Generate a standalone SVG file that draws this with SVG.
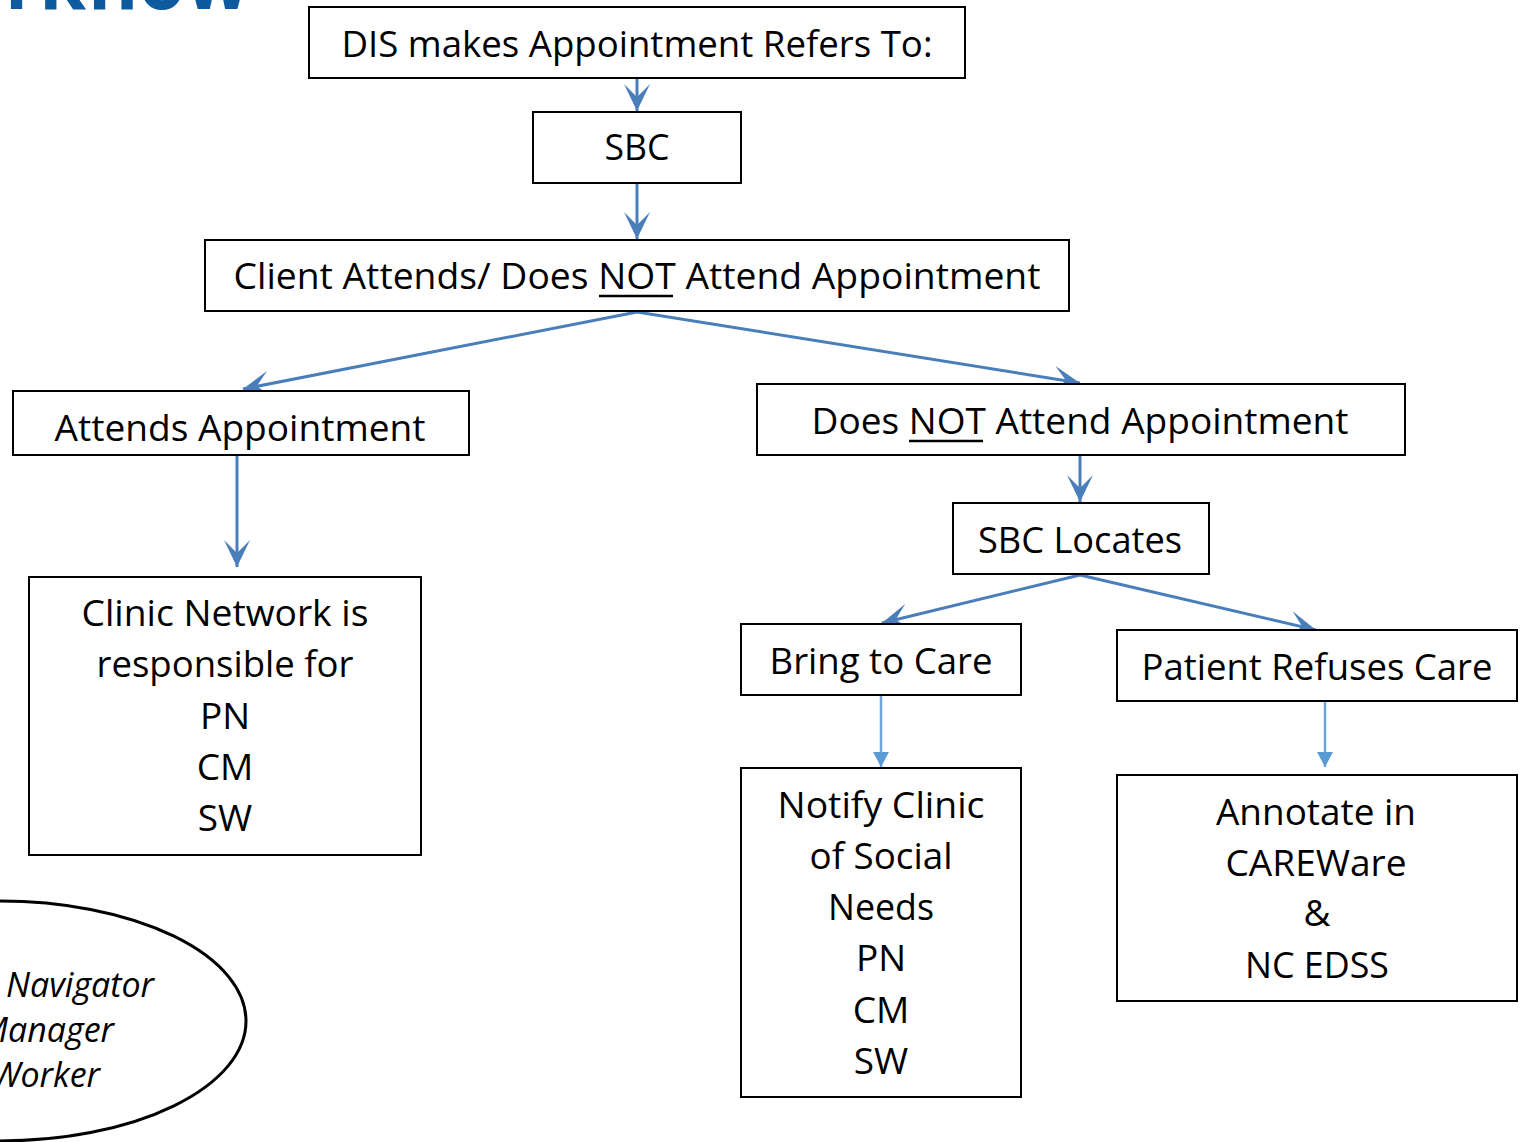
<svg xmlns="http://www.w3.org/2000/svg" width="1524" height="1142" viewBox="0 0 1524 1142">
  <style>
    .box { fill: #ffffff; stroke: #000000; stroke-width: 2; }
    .lbl { font-family: "Open Sans", "Noto Sans", "Liberation Sans", sans-serif; font-size: 37px; fill: #000000; text-anchor: middle; }
    .ital { font-family: "Open Sans", "Noto Sans", "Liberation Sans", sans-serif; font-size: 34px; font-style: italic; fill: #000000; }
    .title { font-family: "Open Sans", "Noto Sans", "Liberation Sans", sans-serif; font-size: 80px; font-weight: bold; fill: #0E5A9E; }
    .ul { stroke: #000000; stroke-width: 2.5; }
    .conn { stroke: #4A7EBB; stroke-width: 3; fill: none; marker-end: url(#notch); }
    .thin { stroke: #6FA5DA; stroke-width: 2.5; fill: none; marker-end: url(#tri); }
  </style>
  <defs>
    <marker id="notch" markerUnits="userSpaceOnUse" markerWidth="32" markerHeight="32" viewBox="-30 -16 32 32" refX="0" refY="0" orient="auto">
      <path d="M0,0 L-27,-13 L-14,0 L-27,13 Z" fill="#4A7EBB"/>
    </marker>
    <marker id="tri" markerUnits="userSpaceOnUse" markerWidth="20" markerHeight="20" viewBox="-17 -10 20 20" refX="0" refY="0" orient="auto">
      <path d="M0,0 L-15,-8 L-15,8 Z" fill="#5B9BD5"/>
    </marker>
  </defs>

  <!-- heading, cut by the top edge -->
  <text class="title" x="5" y="9" textLength="245" lengthAdjust="spacingAndGlyphs">rkflow</text>

  <!-- connectors -->
  <g id="connectors">
    <line class="conn" x1="637" y1="71" x2="637" y2="111"/>
    <line class="conn" x1="637" y1="183" x2="637" y2="239"/>
    <line class="conn" x1="637" y1="312" x2="243" y2="389"/>
    <line class="conn" x1="637" y1="312" x2="1080" y2="383"/>
    <line class="conn" x1="237" y1="456" x2="237" y2="567"/>
    <line class="conn" x1="1080" y1="456" x2="1080" y2="502"/>
    <line class="conn" x1="1080" y1="575" x2="882" y2="623"/>
    <line class="conn" x1="1080" y1="575" x2="1316" y2="630"/>
    <line class="thin" x1="881" y1="695" x2="881" y2="767"/>
    <line class="thin" x1="1325" y1="695" x2="1325" y2="767"/>
  </g>

  <g id="n-dis">
    <rect class="box" x="309" y="7" width="656" height="71"/>
    <text class="lbl" x="637" y="57" textLength="591" lengthAdjust="spacingAndGlyphs">DIS makes Appointment Refers To:</text>
  </g>

  <g id="n-sbc">
    <rect class="box" x="533" y="112" width="208" height="71"/>
    <text class="lbl" x="637" y="160" textLength="65" lengthAdjust="spacingAndGlyphs">SBC</text>
  </g>

  <g id="n-client">
    <rect class="box" x="205" y="240" width="864" height="71"/>
    <text class="lbl" x="637" y="289" textLength="807" lengthAdjust="spacingAndGlyphs">Client Attends/ Does NOT Attend Appointment</text>
    <line class="ul" x1="599" y1="296" x2="673" y2="296"/>
  </g>

  <g id="n-attends">
    <rect class="box" x="13" y="391" width="456" height="64"/>
    <text class="lbl" x="240" y="441" textLength="371" lengthAdjust="spacingAndGlyphs">Attends Appointment</text>
  </g>

  <g id="n-notattend">
    <rect class="box" x="757" y="384" width="648" height="71"/>
    <text class="lbl" x="1080" y="434" textLength="537" lengthAdjust="spacingAndGlyphs">Does NOT Attend Appointment</text>
    <line class="ul" x1="909" y1="441" x2="983" y2="441"/>
  </g>

  <g id="n-clinic">
    <rect class="box" x="29" y="577" width="392" height="278"/>
    <text class="lbl" x="225" y="626" textLength="287" lengthAdjust="spacingAndGlyphs">Clinic Network is</text>
    <text class="lbl" x="225" y="677" textLength="257" lengthAdjust="spacingAndGlyphs">responsible for</text>
    <text class="lbl" x="225" y="729">PN</text>
    <text class="lbl" x="225" y="780">CM</text>
    <text class="lbl" x="225" y="831">SW</text>
  </g>

  <g id="n-locates">
    <rect class="box" x="953" y="503" width="256" height="71"/>
    <text class="lbl" x="1080" y="553" textLength="204" lengthAdjust="spacingAndGlyphs">SBC Locates</text>
  </g>

  <g id="n-bring">
    <rect class="box" x="741" y="624" width="280" height="71"/>
    <text class="lbl" x="881" y="674" textLength="223" lengthAdjust="spacingAndGlyphs">Bring to Care</text>
  </g>

  <g id="n-refuses">
    <rect class="box" x="1117" y="630" width="400" height="71"/>
    <text class="lbl" x="1317" y="680" textLength="351" lengthAdjust="spacingAndGlyphs">Patient Refuses Care</text>
  </g>

  <g id="n-notify">
    <rect class="box" x="741" y="768" width="280" height="329"/>
    <text class="lbl" x="881" y="818" textLength="207" lengthAdjust="spacingAndGlyphs">Notify Clinic</text>
    <text class="lbl" x="881" y="869" textLength="143" lengthAdjust="spacingAndGlyphs">of Social</text>
    <text class="lbl" x="881" y="920" textLength="106" lengthAdjust="spacingAndGlyphs">Needs</text>
    <text class="lbl" x="881" y="971">PN</text>
    <text class="lbl" x="881" y="1023">CM</text>
    <text class="lbl" x="881" y="1074">SW</text>
  </g>

  <g id="n-annotate">
    <rect class="box" x="1117" y="775" width="400" height="226"/>
    <text class="lbl" x="1316" y="825" textLength="200" lengthAdjust="spacingAndGlyphs">Annotate in</text>
    <text class="lbl" x="1316" y="876" textLength="181" lengthAdjust="spacingAndGlyphs">CAREWare</text>
    <text class="lbl" x="1317" y="926">&amp;</text>
    <text class="lbl" x="1317" y="978" textLength="144" lengthAdjust="spacingAndGlyphs">NC EDSS</text>
  </g>

  <g id="n-roles">
    <ellipse cx="0" cy="1021" rx="246" ry="120" fill="#ffffff" stroke="#000000" stroke-width="3"/>
    <text class="ital" x="6" y="997">Navigator</text>
    <text class="ital" x="114" y="1042" text-anchor="end">Manager</text>
    <text class="ital" x="100" y="1087" text-anchor="end">Worker</text>
  </g>
</svg>
